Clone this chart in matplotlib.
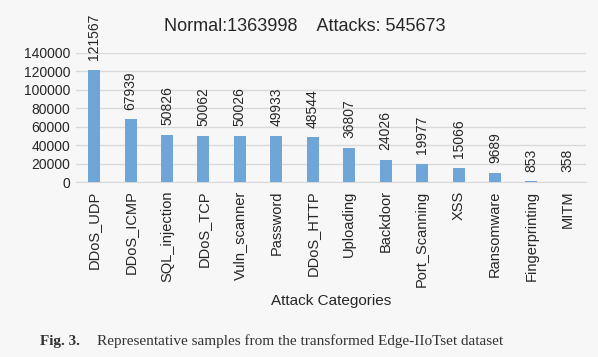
import matplotlib.pyplot as plt
import numpy as np

categories = ['DDoS_UDP', 'DDoS_ICMP', 'SQL_injection', 'DDoS_TCP', 'Vuln_scanner',
              'Password', 'DDoS_HTTP', 'Uploading', 'Backdoor', 'Port_Scanning',
              'XSS', 'Ransomware', 'Fingerprinting', 'MITM']
counts = [121567, 67939, 50826, 50062, 50026, 49933, 48544, 36807, 24026, 19977,
          15066, 9689, 853, 358]
normal_total = 1363998
attack_total = 545673

plt.rcParams['font.family'] = ['Liberation Sans', 'DejaVu Sans']
bg = '#f7f7f7'

fig = plt.figure(figsize=(5.98, 3.57), dpi=100, facecolor=bg)
ax = fig.add_axes([0.127, 0.49, 0.853, 0.362], facecolor=bg)

x = np.arange(len(categories))
bars = ax.bar(x, counts, width=0.33, color='#6fa5d7', zorder=3)
for b, v in zip(bars, counts):
    ax.annotate(str(v), (b.get_x() + b.get_width() / 2, v), xytext=(0, 7),
                textcoords='offset points', rotation=90, ha='center', va='bottom',
                fontsize=10, color='#262626', annotation_clip=False)

ax.set_xlim(-0.5, len(categories) - 0.5)
ax.set_ylim(0, 140000)
ax.set_yticks(range(0, 140001, 20000))
ax.set_xticks(x)
ax.set_xticklabels(categories, rotation=90, fontsize=10.5, color='#262626')
ax.tick_params(axis='y', labelsize=10, colors='#262626', length=0, pad=4)
ax.tick_params(axis='x', length=0, pad=6)
ax.grid(axis='y', color='#d9d9d9', linewidth=1, zorder=0)
for s in ['top', 'right', 'left']:
    ax.spines[s].set_visible(False)
ax.spines['bottom'].set_color('#d9d9d9')
ax.set_xlabel('Attack Categories', fontsize=11, color='#262626', labelpad=5)

fig.text(0.51, 0.927, f'Normal:{normal_total}    Attacks: {attack_total}',
         ha='center', va='center', fontsize=13, color='#262626')

fig.text(0.067, 0.035, 'Fig. 3.', fontsize=11, fontweight='bold',
         family='Liberation Serif', color='#333333', va='baseline')
fig.text(0.162, 0.035, 'Representative samples from the transformed Edge-IIoTset dataset',
         fontsize=11, family='Liberation Serif', color='#333333', va='baseline')

fig.savefig('out.png', dpi=100, facecolor=bg)
